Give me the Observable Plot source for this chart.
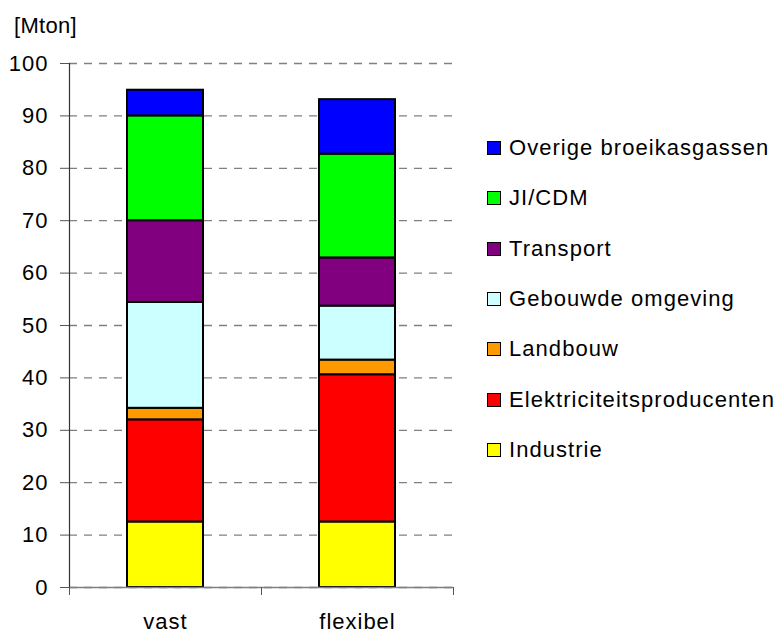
<!DOCTYPE html>
<html>
<head>
<meta charset="utf-8">
<script src="https://cdn.jsdelivr.net/npm/d3@7"></script>
<script src="https://cdn.jsdelivr.net/npm/@observablehq/plot@0.6"></script>
<style>
  html, body { margin: 0; padding: 0; background: #fff; }
  #wrap { position: relative; width: 782px; height: 634px; font-family: "Liberation Sans", Arial, sans-serif; color: #000; }
  #unit { position: absolute; left: 14px; top: 13px; font-size: 22px; letter-spacing: 0.3px; }
  #legend { position: absolute; left: 487px; top: 123px; font-size: 22px; letter-spacing: 1.05px; }
  .row { height: 50.3px; display: flex; align-items: center; white-space: nowrap; }
  .sw { width: 12px; height: 12px; border: 1.5px solid #000; margin-right: 8px; flex: none; }
</style>
</head>
<body>
<div id="wrap">
  <div id="chart"></div>
  <div id="unit">[Mton]</div>
  <div id="legend"></div>
</div>
<script>
const categories = ["vast", "flexibel"];
const sectors = ["Industrie", "Elektriciteitsproducenten", "Landbouw", "Gebouwde omgeving", "Transport", "JI/CDM", "Overige broeikasgassen"];
const vastValues = [12.5, 19.5, 2.2, 20.2, 15.6, 20.0, 4.9];
const flexibelValues = [12.5, 28.1, 2.8, 10.3, 9.2, 19.8, 10.4];
const sectorColors = ["#FFFF00", "#FF0000", "#FF9900", "#CCFFFF", "#800080", "#00FF00", "#0000FF"];
const yTicks = [0, 10, 20, 30, 40, 50, 60, 70, 80, 90, 100];

const seriesByCategory = [vastValues, flexibelValues];
const data = [];
categories.forEach((cat, ci) => {
  sectors.forEach((s, si) => {
    data.push({category: cat, ci, ci2: ci + 1, sector: s, value: seriesByCategory[ci][si]});
  });
});

const chart = Plot.plot({
  width: 782,
  height: 634,
  marginLeft: 69,
  marginRight: 329,
  marginTop: 63,
  marginBottom: 47,
  style: {fontFamily: "'Liberation Sans', Arial, sans-serif", fontSize: "22px", color: "#000", background: "#fff", letterSpacing: "1px"},
  x: {domain: [0, categories.length], axis: null},
  y: {domain: [0, 100], axis: null},
  color: {domain: sectors, range: sectorColors},
  marks: [
    Plot.gridY(yTicks, {stroke: "#808080", strokeOpacity: 1, strokeWidth: 1.3, strokeDasharray: "8,7"}),
    Plot.rect(data, Plot.stackY({x1: "ci", x2: "ci2", y: "value", fill: "sector", stroke: "#000", strokeWidth: 2, insetLeft: 58, insetRight: 58})),
    Plot.ruleY([0], {stroke: "#808080", strokeWidth: 1.3}),
    Plot.ruleX([0], {stroke: "#333", strokeWidth: 1.2}),
    Plot.axisY({ticks: yTicks, tickSize: 9, tickPadding: 12, label: null, stroke: "#555"}),
    Plot.axisX({ticks: d3.range(categories.length + 1), tickSize: 8, tickFormat: () => "", label: null, stroke: "#555"}),
    Plot.axisX({ticks: categories.map((c, i) => i + 0.5), tickSize: 0, tickPadding: 26, tickFormat: d => categories[Math.floor(d)], label: null})
  ]
});
document.getElementById("chart").appendChild(chart);

const legend = document.getElementById("legend");
sectors.slice().reverse().forEach(s => {
  const row = document.createElement("div");
  row.className = "row";
  const sw = document.createElement("div");
  sw.className = "sw";
  sw.style.background = sectorColors[sectors.indexOf(s)];
  const t = document.createElement("span");
  t.textContent = s;
  row.appendChild(sw);
  row.appendChild(t);
  legend.appendChild(row);
});
</script>
</body>
</html>
